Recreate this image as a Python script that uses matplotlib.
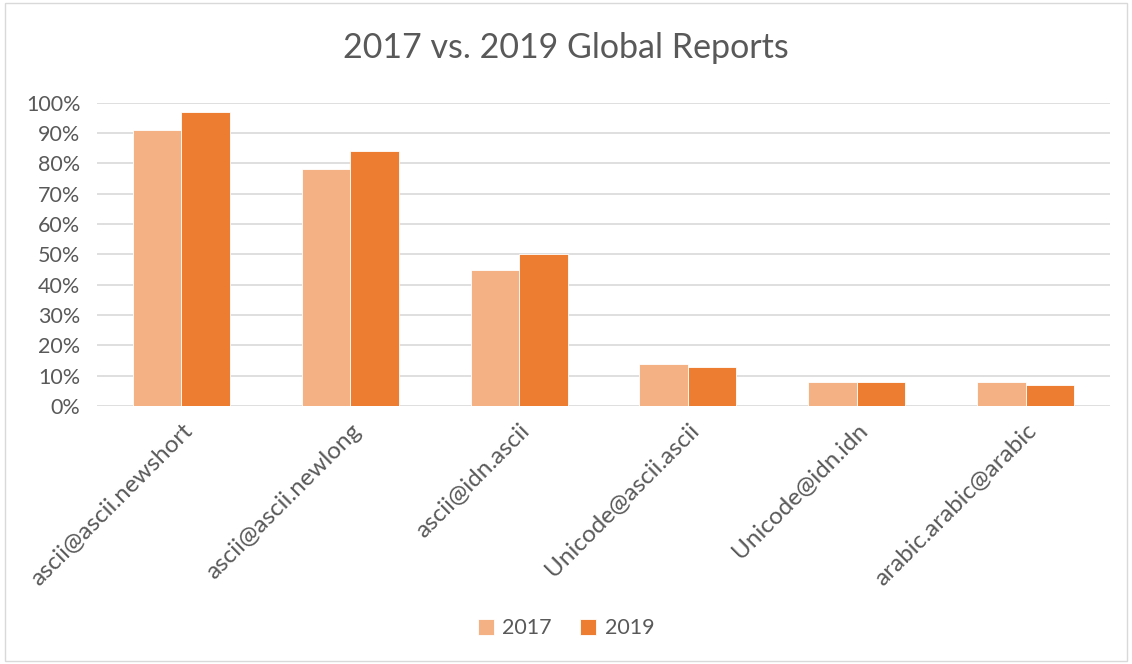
import matplotlib.pyplot as plt
import numpy as np
from matplotlib.patches import Rectangle
from matplotlib.ticker import PercentFormatter

categories = ['ascii@ascii.newshort', 'ascii@ascii.newlong', 'ascii@idn.ascii',
              'Unicode@ascii.ascii', 'Unicode@idn.idn', 'arabic.arabic@arabic']
vals_2017 = [91, 78, 45, 14, 8, 8]
vals_2019 = [97, 84, 50, 13, 8, 7]

plt.rcParams['font.family'] = ['Lato', 'DejaVu Sans']
txt = '#595959'

fig = plt.figure(figsize=(11.32, 6.64), dpi=100)
ax = fig.add_axes([0.0857, 0.3886, 0.8949, 0.4566])

x = np.arange(len(categories))
w = 0.287
ax.bar(x - w / 2, vals_2017, w, color='#f4b183', label='2017', edgecolor='white', linewidth=0.6, zorder=3)
ax.bar(x + w / 2, vals_2019, w, color='#ed7d31', label='2019', edgecolor='white', linewidth=0.6, zorder=3)

#axes style
ax.set_xlim(-0.5, len(categories) - 0.5)
ax.set_ylim(0, 100)
ax.set_yticks(range(0, 101, 10))
ax.yaxis.set_major_formatter(PercentFormatter(decimals=0))
ax.grid(axis='y', color='#d9d9d9', linewidth=1.2, zorder=0)
for s in ax.spines.values():
    s.set_visible(False)
ax.tick_params(axis='y', length=0, labelsize=15.5, colors=txt, pad=12)
ax.tick_params(axis='x', length=0, colors=txt, pad=10)
ax.set_xticks(x)
ax.set_xticklabels(categories, rotation=45, ha='right', rotation_mode='anchor', fontsize=17.5, color=txt)

fig.suptitle('2017 vs. 2019 Global Reports', y=0.952, fontsize=24.5, color=txt)
fig.legend(loc='center', bbox_to_anchor=(0.5, 0.054), ncol=2, frameon=False,
           fontsize=15.5, labelcolor=txt, handlelength=0.75, handleheight=0.75,
           columnspacing=1.3, handletextpad=0.4)

#outer border
fig.patches.append(Rectangle((0.004, 0.004), 0.992, 0.992, transform=fig.transFigure,
                             fill=False, edgecolor='#d9d9d9', linewidth=1))

plt.savefig('out.png', dpi=100)
